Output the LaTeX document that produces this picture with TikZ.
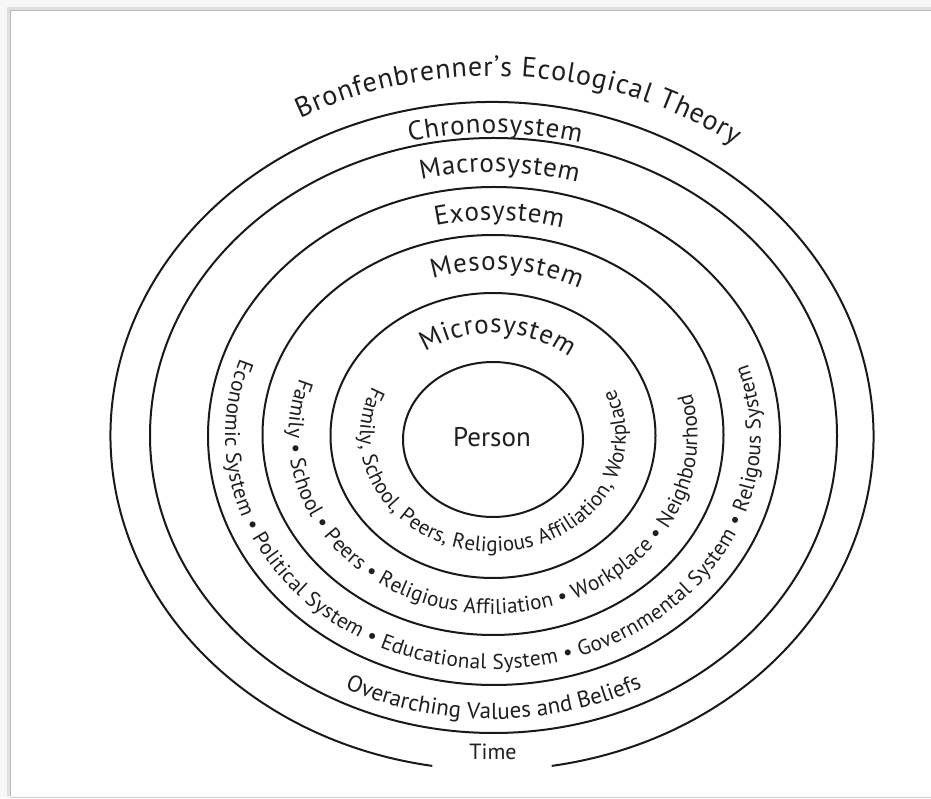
\documentclass[tikz,border=0pt]{standalone}
\usepackage{fontspec}
\setmainfont{PT Sans}
\usetikzlibrary{decorations.text}
\newcommand\ringtxt{\fontsize{21.3}{21.3}\selectfont}
\newcommand\ringtxtsmall{\fontsize{21}{21}\selectfont}
\newcommand\toptxt{\fontsize{27}{27}\selectfont}
\newcommand\titletxt{\fontsize{28}{28}\selectfont}
\begin{document}
\begin{tikzpicture}[x=1pt,y=1pt,
  ring/.style={line width=2pt, draw=black!90},
  curvetext/.style={decorate, decoration={text along path, text color=black!88, text align={fit to path}}},
  lbl/.style={text=black!88, inner sep=0pt}]
\useasboundingbox (0,0) rectangle (931,798);
% card and its shadow
\fill[black!3] (0,0) rectangle (931,798);
\fill[white] (10,2) rectangle (931,788);
\draw[black!12, line width=3pt] (8.5,2) -- (8.5,789.5) -- (931,789.5);
\draw[black!28, line width=1.2pt] (10.6,2) -- (10.6,787.6) -- (931,787.6);
\draw[black!18, line width=1pt] (10,1) -- (931,1);
\coordinate (C) at (493,362);
% rings
\draw[ring] (493,358.5) ellipse [x radius=90, y radius=77.5];
\draw[ring] (493,362.5) ellipse [x radius=162.5, y radius=142.5];
\draw[ring] (493,363) ellipse [x radius=230.5, y radius=200];
\draw[ring] (494,362) ellipse [x radius=286, y radius=249];
\draw[ring] (493.5,362.5) ellipse [x radius=343.5, y radius=297.5];
\draw[ring] (492,362) ++(-81:381.5 and 334) arc [start angle=-81, end angle=261, x radius=381.5, y radius=334];
% centre
\node[lbl, font=\fontsize{27}{27}\selectfont] (person) at (492,361) {Person};
\node[lbl, font=\fontsize{22}{22}\selectfont] (time) at (493,46) {Time};
% top labels
\path[curvetext, decoration={text={|\titletxt|Bronfenbrenner’s Ecological Theory}}]
  (C) ++(118:411 and 360) arc [start angle=118, end angle=54, x radius=411, y radius=360];
\path[curvetext, decoration={text={|\toptxt|Chronosystem}}]
  (C) ++(103.8:349.2 and 303) arc [start angle=103.8, end angle=75.5, x radius=349.2, y radius=303];
\path[curvetext, decoration={text={|\toptxt|Macrosystem}}]
  (C) ++(103.7:303.8 and 264) arc [start angle=103.7, end angle=73.8, x radius=303.8, y radius=264];
\path[curvetext, decoration={text={|\toptxt|Exosystem}}]
  (C) ++(103.3:248.6 and 216) arc [start angle=103.3, end angle=73.8, x radius=248.6, y radius=216];
\path[curvetext, decoration={text={|\toptxt|Mesosystem}}]
  (C) ++(108.5:190.4 and 166) arc [start angle=108.5, end angle=63, x radius=190.4, y radius=166];
\path[curvetext, decoration={text={|\toptxt|Microsystem}}]
  (C) ++(125:118.5 and 103) arc [start angle=125, end angle=50, x radius=118.5, y radius=103];
% ring contents
\path[curvetext, decoration={text={|\ringtxtsmall|Family, School, Peers, Religious Affiliation, Workplace}}]
  (C) ++(155:133 and 116) arc [start angle=155, end angle=384, x radius=133, y radius=116];
\path[curvetext, decoration={text={|\ringtxt|Family • School • Peers • Religious Affiliation • Workplace • Neighbourhood}}]
  (C) ++(161:204.5 and 178) arc [start angle=161, end angle=374, x radius=204.5, y radius=178];
\path[curvetext, decoration={text={|\ringtxt|Economic System • Political System • Educational System • Governmental System • Religous System}}]
  (C) ++(160.7:267.8 and 233) arc [start angle=160.7, end angle=378, x radius=267.8, y radius=233];
\path[curvetext, decoration={text={|\fontsize{23}{23}\selectfont|Overarching Values and Beliefs}}]
  (C) ++(243:326 and 283) arc [start angle=243, end angle=297, x radius=326, y radius=283];
\end{tikzpicture}
\end{document}
